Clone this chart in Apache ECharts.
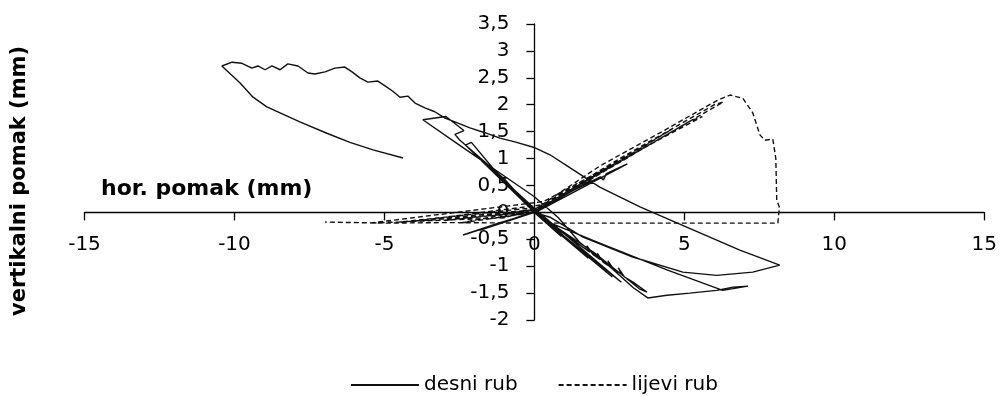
<!DOCTYPE html>
<html>
<head>
<meta charset="utf-8">
<script src="https://cdn.jsdelivr.net/npm/echarts@6/dist/echarts.min.js"></script>
<style>html,body{margin:0;padding:0;background:#fff;}#chart{width:1000px;height:396px;}</style>
</head>
<body>
<div id="chart"></div>
<script>
// ---- data (mm) ----
const xTicks = [-15, -10, -5, 0, 5, 10, 15];
const yTicks = [-2, -1.5, -1, -0.5, 0, 0.5, 1, 1.5, 2, 2.5, 3, 3.5];
const seriesNames = ['desni rub', 'lijevi rub'];

// desni rub: small cycles around origin
const desniSmallCycles = [
  [0,0],[-0.8,0.45],[0,0.02],[0.9,-0.45],[0,0],
  [-1.2,-0.22],[0,0],[1.3,0.42],[0,0],
  [-1.5,0.85],[0.05,0.03],[1.8,-0.85],[0,0],
  [-1.8,-0.33],[0,0.02],[1.9,0.6],[0,0],
  [-2.38,-0.42],[-1.2,-0.2],[0,0],[1.2,0.38],[2.2,0.66],[2.3,0.6],[2.4,0.72],[2.9,0.85],[3.1,0.9],[0.1,0.02],
  [-2.0,1.1],[0,0],[2.6,-1.2],[0,0],
  [-2.2,1.2],[0.05,0.05],[2.9,-1.3],[0,0],
  [-2.3,1.25],[-2.1,1.3],[-1.2,0.7],[0,0],[1.0,-0.4],[1.85,-0.74],[1.75,-0.62],[1.95,-0.78],[2.2,-0.88],
  [2.1,-0.76],[2.3,-0.93],[2.55,-1.02],[2.45,-0.9],[2.65,-1.06],[2.9,-1.15],[2.8,-1.03],[3.0,-1.2],
  [3.3,-1.3],[3.75,-1.48],[3.5,-1.42],[2.0,-0.75],[0,0]
];
// desni rub: middle loop
const desniMidLoop = [
  [-1.0,0.62],[-2.5,1.35],[-2.65,1.45],[-2.35,1.52],[-2.95,1.78],[-3.72,1.72],
  [-2.5,1.25],[-1.2,0.75],[0,0.29],[0.8,-0.1],[1.5,-0.55],[2.5,-1.0],[3.3,-1.4],[3.78,-1.59],
  [4.42,-1.54],[5.18,-1.5],[6.08,-1.45],[6.62,-1.39],[7.12,-1.37],
  [6.28,-1.45],[4.42,-1.07],[2.18,-0.57],[0.28,-0.14],[0,0]
];
// desni rub: large loop (right push, then left push with cracking, then release)
const desniBigLoop = [
  [0.52,-0.09],[1.62,-0.46],[3.28,-0.83],[4.95,-1.11],[6.08,-1.17],[7.28,-1.11],[8.18,-0.98],
  [6.85,-0.7],[5.52,-0.38],[4.52,-0.14],[3.52,0.1],[2.18,0.47],[1.18,0.83],[0.52,1.07],[0.02,1.2],
  [-0.65,1.31],[-1.15,1.38],[-1.65,1.48],[-2.15,1.57],[-2.65,1.68],[-2.98,1.75],[-3.32,1.87],
  [-3.65,1.94],[-3.98,2.03],[-4.22,2.16],[-4.48,2.14],[-4.72,2.25],[-4.98,2.35],[-5.22,2.44],
  [-5.55,2.42],[-5.82,2.5],[-6.08,2.61],[-6.32,2.7],[-6.65,2.68],[-6.98,2.61],[-7.32,2.57],
  [-7.55,2.59],[-7.88,2.72],[-8.22,2.76],[-8.48,2.65],[-8.75,2.72],[-8.98,2.65],[-9.22,2.72],
  [-9.42,2.68],[-9.75,2.77],[-10.08,2.79],[-10.42,2.72],
  [-9.82,2.41],[-9.38,2.14],[-8.92,1.96],[-8.48,1.85],[-7.82,1.68],[-6.92,1.47],[-6.15,1.3],
  [-5.38,1.16],[-4.38,1.01]
];

// lijevi rub: cycles around origin
const lijeviCycles = [
  [0,0],[1.2,0.4],[0,0],[-1.5,-0.12],[0,0],[2.5,0.85],[0.1,0.05],[-3,-0.15],[0,0.02],
  [3.8,1.25],[0.2,0.1],[-4.5,-0.18],[0,0],[4.6,1.55],[0.1,0.08],[-2.5,-0.2],[0,0],
  [5.2,1.7],[5.6,1.78],[0.3,0.2],[-5.5,-0.2],[-1,-0.1],[0,0.05],
  [3.0,1.05],[6.0,2.0],[6.3,2.05],[0.4,0.15],[-4,-0.16],[0,0.05]
];
// lijevi rub: final push to the right and return
const lijeviFinal = [
  [2.18,0.86],[3.28,1.2],[4.42,1.55],[5.52,1.9],[6.1,2.08],[6.52,2.18],[6.95,2.12],[7.28,1.85],
  [7.52,1.44],[7.68,1.34],[7.95,1.36],[8.05,1.0],[8.08,0.23],[8.18,0.08],[8.15,0],[8.12,-0.2],
  [4,-0.2],[0,-0.2],[-3,-0.19],[-5,-0.2],[-6.98,-0.18]
];

const desniData = desniSmallCycles.concat(desniMidLoop, desniBigLoop);
const lijeviData = lijeviCycles.concat(lijeviFinal);

const fmt = v => String(v).replace('.', ',');
const gridTop = 24, gridBottom = 76, gridLeft = 84.5, gridRight = 15;
const plotH = 396 - gridTop - gridBottom;
const yMin = yTicks[0], yMax = yTicks[yTicks.length - 1];
const xMin = xTicks[0], xMax = xTicks[xTicks.length - 1];
const xAxisOffset = -(plotH * (0 - yMin) / (yMax - yMin));

const axisLineStyle = { color: '#000', width: 1.3 };
const labelFont = { color: '#000', fontFamily: 'DejaVu Sans', fontSize: 20, formatter: fmt, showMinLabel: true, showMaxLabel: true };
const titleGraphics = [
  { type: 'text', x: 20, y: 181, rotation: Math.PI / 2,
    style: { text: 'vertikalni pomak (mm)', font: 'bold 21px "DejaVu Sans"', fill: '#000', textAlign: 'center', textVerticalAlign: 'middle' } },
  { type: 'text', left: 101, top: 178,
    style: { text: 'hor. pomak (mm)', font: 'bold 22px "DejaVu Sans"', fill: '#000' } }
];

const chart = echarts.init(document.getElementById('chart'));
chart.setOption({
  animation: false,
  backgroundColor: '#fff',
  grid: { left: gridLeft, right: gridRight, top: gridTop, bottom: gridBottom },
  xAxis: {
    type: 'value', min: xMin, max: xMax, interval: 5, offset: xAxisOffset,
    axisLine: { onZero: false, lineStyle: axisLineStyle },
    axisTick: { show: true, length: 8, lineStyle: axisLineStyle },
    axisLabel: Object.assign({ margin: 22 }, labelFont),
    splitLine: { show: false }
  },
  yAxis: {
    type: 'value', min: yMin, max: yMax, interval: 0.5,
    axisLine: { show: true, onZero: true, lineStyle: axisLineStyle },
    axisTick: { show: true, length: 8, lineStyle: axisLineStyle },
    axisLabel: { show: false },
    splitLine: { show: false }
  },
  legend: {
    show: true, left: 350, top: 375, padding: 0, itemWidth: 68, itemHeight: 14, itemGap: 40,
    itemStyle: { opacity: 0 },
    textStyle: { fontFamily: 'DejaVu Sans', fontSize: 20, color: '#000' },
    data: seriesNames
  },
  graphic: titleGraphics,
  series: [
    { name: seriesNames[0], type: 'line', data: desniData, symbol: 'none', smooth: false,
      lineStyle: { color: '#111', width: 1.4, type: 'solid' }, itemStyle: { color: '#111' } },
    { name: seriesNames[1], type: 'line', data: lijeviData, symbol: 'none', smooth: false,
      lineStyle: { color: '#111', width: 1.4, type: [5, 3] }, itemStyle: { color: '#111' } }
  ]
});

// y tick labels placed beside the (on-zero) y axis through the chart's own scale
const yLabelGraphics = yTicks.map(v => {
  const p = chart.convertToPixel({ gridIndex: 0 }, [0, v]);
  return { type: 'text', x: p[0] - 25, y: p[1],
    style: { text: fmt(v), font: '20px "DejaVu Sans"', fill: '#000', textAlign: 'right', textVerticalAlign: 'middle' } };
});
chart.setOption({ graphic: titleGraphics.concat(yLabelGraphics) }, { replaceMerge: ['graphic'] });
</script>
</body>
</html>
